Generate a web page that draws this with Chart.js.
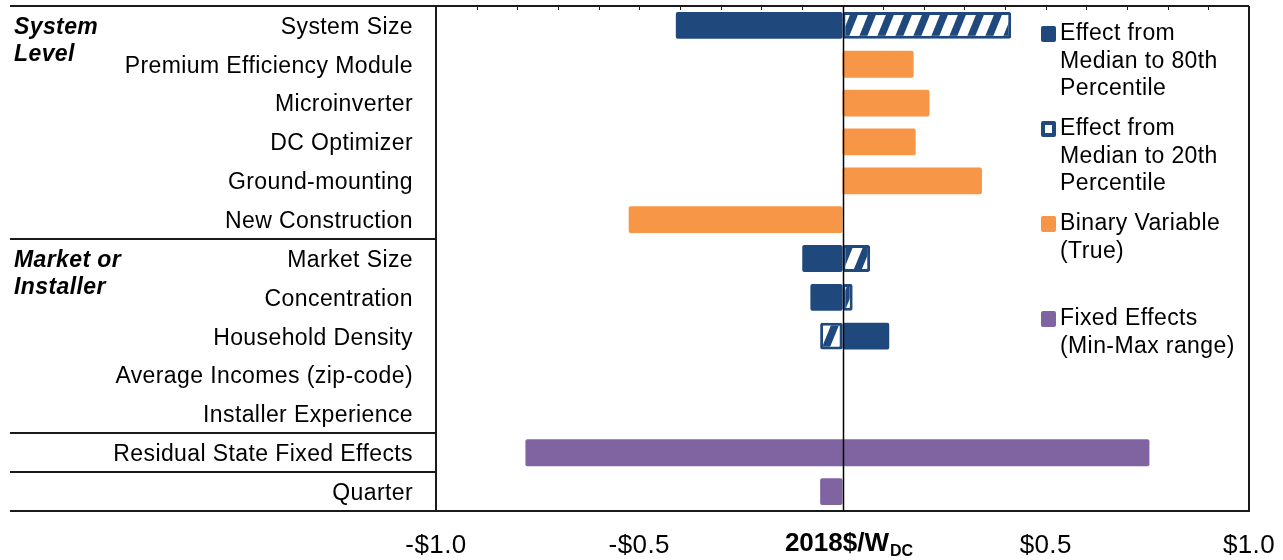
<!DOCTYPE html>
<html>
<head>
<meta charset="utf-8">
<script src="https://cdn.jsdelivr.net/npm/chart.js@4"></script>
<style>
  html, body { margin: 0; padding: 0; background: #fff; }
</style>
</head>
<body>
<canvas id="chart" width="1283" height="560"></canvas>
<script>
"use strict";

// 1: data
const categories = [
  'System Size', 'Premium Efficiency Module', 'Microinverter', 'DC Optimizer',
  'Ground-mounting', 'New Construction', 'Market Size', 'Concentration',
  'Household Density', 'Average Incomes (zip-code)', 'Installer Experience',
  'Residual State Fixed Effects', 'Quarter'
];
const effect80   = [-0.41, null, null, null, null, null, -0.099, -0.079, 0.115, null, null, null, null];
const effect20   = [0.415, null, null, null, null, null, 0.068, 0.025, -0.055, null, null, null, null];
const binaryTrue = [null, 0.175, 0.214, 0.18, 0.343, -0.526, null, null, null, null, null, null, null];
const fixedMin   = [null, null, null, null, null, null, null, null, null, null, null, -0.78, -0.055];
const fixedMax   = [null, null, null, null, null, null, null, null, null, null, null, 0.755, 0];
const xTicks = [-1, -0.5, 0, 0.5, 1];
const groupLabels = [['System', 'Level'], ['Market or', 'Installer']];
const groupRows = [0, 6];          // first row of each labelled group
const separatorsAfter = [5, 10, 11, 12];
const legendItems = [
  ['Effect from', 'Median to 80th', 'Percentile'],
  ['Effect from', 'Median to 20th', 'Percentile'],
  ['Binary Variable', '(True)'],
  ['Fixed Effects', '(Min-Max range)']
];

const darkBlue = '#1F497D';
const orange = '#F79646';
const purple = '#8064A2';
const fontFamily = '"Liberation Sans", Arial, sans-serif';

// 2: hatch pattern for the 20th percentile bars
function makeHatch() {
  const c = document.createElement('canvas');
  c.width = 18;
  c.height = 44;
  const g = c.getContext('2d');
  g.fillStyle = darkBlue;
  g.fillRect(0, 0, 18, 44);
  g.fillStyle = '#fff';
  for (const off of [-18, 0, 18]) {
    g.beginPath();
    g.moveTo(off, 44);
    g.lineTo(off + 10, 44);
    g.lineTo(off + 28, 0);
    g.lineTo(off + 18, 0);
    g.closePath();
    g.fill();
  }
  return g.createPattern(c, 'repeat');
}

// 3: frame, separators, zero line, legend, axis title
const decorations = {
  id: 'decorations',
  beforeDraw(chart) {
    chart.ctx.letterSpacing = '0.4px';
  },
  afterDatasetsDraw(chart) {
    const ctx = chart.ctx;
    const area = chart.chartArea;
    const x = chart.scales.x;
    const y = chart.scales.y;
    ctx.save();
    ctx.strokeStyle = '#1a1a1a';
    ctx.lineWidth = 2;

    // frame
    ctx.beginPath();
    ctx.moveTo(10, area.top); ctx.lineTo(area.right, area.top);
    ctx.moveTo(area.left, area.top); ctx.lineTo(area.left, area.bottom);
    ctx.moveTo(area.right, area.top); ctx.lineTo(area.right, area.bottom);
    ctx.stroke();

    // row separators in the label column
    for (const i of separatorsAfter) {
      const yy = i + 1 < categories.length
        ? Math.round((y.getPixelForValue(i) + y.getPixelForValue(i + 1)) / 2)
        : area.bottom;
      ctx.beginPath();
      ctx.moveTo(10, yy);
      ctx.lineTo(i + 1 < categories.length ? area.left : area.right, yy);
      ctx.stroke();
    }

    // minor ticks on the top edge
    ctx.lineWidth = 1;
    ctx.beginPath();
    for (let k = -9; k <= 9; k++) {
      const px = Math.round(x.getPixelForValue(k / 10)) + 0.5;
      ctx.moveTo(px, area.top);
      ctx.lineTo(px, area.top + 4);
    }
    ctx.stroke();

    // zero line
    const zx = Math.round(x.getPixelForValue(0)) + 0.5;
    ctx.strokeStyle = '#000';
    ctx.lineWidth = 1.5;
    ctx.beginPath();
    ctx.moveTo(zx, area.top);
    ctx.lineTo(zx, area.bottom);
    ctx.stroke();

    // group labels
    ctx.letterSpacing = '0.4px';
    ctx.fillStyle = '#000';
    ctx.textBaseline = 'middle';
    ctx.textAlign = 'left';
    ctx.font = 'italic bold 23px ' + fontFamily;
    groupLabels.forEach((lines, gi) => {
      const y0 = y.getPixelForValue(groupRows[gi]) + 2;
      lines.forEach((t, li) => ctx.fillText(t, 14, y0 + li * 27));
    });

    // legend
    ctx.font = '23px ' + fontFamily;
    const legendTop = [34, 129, 224, 319];
    legendItems.forEach((lines, i) => {
      const ly = legendTop[i];
      ctx.beginPath();
      ctx.roundRect(1041, ly - 8, 15, 16, 2);
      ctx.fillStyle = [darkBlue, darkBlue, orange, purple][i];
      ctx.fill();
      if (i === 1) {
        ctx.fillStyle = '#fff';
        ctx.fillRect(1045, ly - 4, 7, 8);
      }
      ctx.fillStyle = '#000';
      lines.forEach((t, li) => ctx.fillText(t, 1060, ly + li * 27.5));
    });

    // axis title in place of the zero tick
    ctx.letterSpacing = '0px';
    ctx.font = 'bold 26px ' + fontFamily;
    const main = '2018$/W';
    const wMain = ctx.measureText(main).width;
    ctx.font = 'bold 16px ' + fontFamily;
    const wSub = ctx.measureText('DC').width;
    const startX = x.getPixelForValue(0) + 6 - (wMain + wSub) / 2;
    ctx.font = 'bold 26px ' + fontFamily;
    ctx.fillText(main, startX, 544);
    ctx.font = 'bold 16px ' + fontFamily;
    ctx.fillText('DC', startX + wMain + 1, 552);
    ctx.restore();
  }
};

// 4: chart
const barCommon = {
  grouped: false,
  barPercentage: 0.69,
  categoryPercentage: 1,
  borderRadius: 2,
  borderSkipped: false
};

function noPadding(scale) {
  scale.paddingTop = 0;
  scale.paddingBottom = 0;
  scale.paddingLeft = 0;
  scale.paddingRight = 0;
}

new Chart(document.getElementById('chart'), {
  type: 'bar',
  data: {
    labels: categories,
    datasets: [
      Object.assign({ label: 'Effect from Median to 80th Percentile', data: effect80, backgroundColor: darkBlue }, barCommon),
      Object.assign({ label: 'Effect from Median to 20th Percentile', data: effect20, backgroundColor: makeHatch(),
        borderColor: darkBlue, borderWidth: 3 }, barCommon),
      Object.assign({ label: 'Binary Variable (True)', data: binaryTrue, backgroundColor: orange }, barCommon),
      Object.assign({ label: 'Fixed Effects (Min-Max range)',
        data: fixedMin.map((v, i) => v === null ? null : [v, fixedMax[i]]), backgroundColor: purple }, barCommon)
    ]
  },
  options: {
    indexAxis: 'y',
    responsive: false,
    animation: false,
    layout: { padding: { left: 0, top: 6, right: 34, bottom: 0 } },
    plugins: {
      legend: { display: false },
      tooltip: { enabled: false }
    },
    scales: {
      x: {
        min: -1,
        max: 1,
        afterBuildTicks(scale) {
          scale.ticks = xTicks.map(v => ({ value: v }));
        },
        afterFit(scale) {
          scale.height = 49;
          noPadding(scale);
        },
        grid: { display: false, drawTicks: false },
        border: { display: true, color: '#1a1a1a', width: 2 },
        ticks: {
          padding: 19,
          maxRotation: 0,
          color: '#000',
          font: { family: fontFamily, size: 26 },
          callback: v => v === 0 ? '' : (v < 0 ? '-' : '') + '$' + Math.abs(v).toFixed(1)
        }
      },
      y: {
        afterFit(scale) {
          scale.width = 436;
          noPadding(scale);
        },
        grid: { display: false, drawTicks: false },
        border: { display: false },
        ticks: {
          padding: 23,
          labelOffset: 2,
          autoSkip: false,
          color: '#000',
          font: { family: fontFamily, size: 23 }
        }
      }
    }
  },
  plugins: [decorations]
});
</script>
</body>
</html>
